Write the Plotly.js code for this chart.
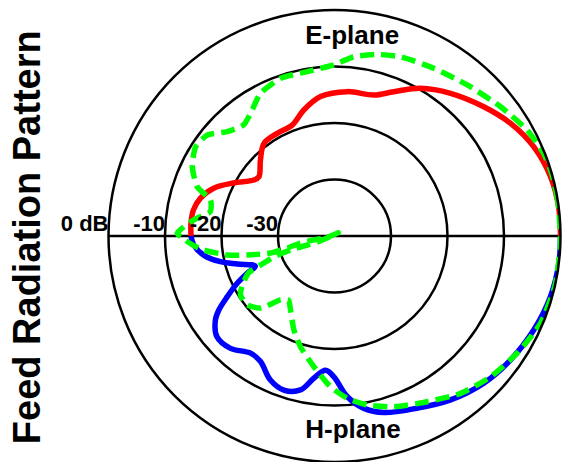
<!DOCTYPE html>
<html>
<head>
<meta charset="utf-8">
<script src="https://cdn.plot.ly/plotly-3.0.1.min.js"></script>
<style>
  html, body { margin: 0; padding: 0; background: #ffffff; }
  #chart { width: 563px; height: 462px; }
</style>
</head>
<body>
<div id="chart"></div>
<script>
// E-plane (red), angle in degrees, level in dB
const eTheta = [0, 7.4, 15.4, 24.1, 32.6, 40.9, 50.9, 59.8, 67.7, 74.4, 85, 95.7, 103.7, 110.9, 119.2, 127.3, 134.2, 141.9, 145.3, 152.3, 158.4, 164.2, 169.6, 174.8, 180];
const eLevel = [0, 0, -0.35, -1.35, -3.0, -5.05, -7.45, -9.75, -12.4, -14.1, -14.35, -15.2, -17.05, -19.0, -19.2, -19.4, -21.2, -23.0, -22.6, -19.8, -17.0, -15.35, -14.6, -14.5, -14.6];

// H-plane (blue)
const hTheta = [180, 183.7, 188.3, 192.7, 196.1, 200.8, 203.1, 205.9, 209.5, 212.6, 215.2, 220.6, 227.2, 234.4, 239.5, 246.0, 251.8, 257.5, 261.7, 266.2, 269.7, 274.5, 279.7, 285.6, 295.6, 305.3, 315.4, 324.8, 334.8, 344.3, 353.1, 360];
const hLevel = [-14.6, -15.05, -16.6, -19.3, -22.1, -25.0, -23.2, -20.85, -18.2, -15.7, -14.2, -12.6, -12.9, -14.5, -14.2, -12.1, -11.3, -12.1, -14.55, -16.2, -15.1, -11.5, -9.05, -7.55, -6.2, -4.45, -2.9, -1.9, -1.0, -0.3, 0, 0];

// Dashed green pattern
const gTheta = [0, 9.1, 16.0, 21.6, 28.8, 37.9, 48.7, 59.4, 69.8, 76.8, 83.9, 90.2, 99.4, 108.9, 117.4, 124.4, 129.3, 135.8, 141.6, 147.3, 154.0, 160.3, 163.8, 168.9, 173.5, 179.0,
  180.75, 183.6, 186.1, 190.1, 192.3, 194.9, 194.3, 191.6, 190.8, 188, 40, 199.4, 198.4, 197.6, 199.0, 201.4, 203.3, 208.0, 212.1, 218.4, 224.2, 229.8, 234.3, 239.3, 246.6, 252.9, 261.0, 268.5, 274.5, 280.95, 289.2, 299.2, 308.7, 317.95, 327.3, 337.0, 347.1, 356.5, 360];
const gLevel = [0, 0, 0, -0.2, -1.1, -2.75, -4.4, -5.5, -6.2, -7.0, -8.1, -9.7, -10.5, -10.5, -11.55, -13.7, -14.6, -13.5, -11.25, -10.8, -12.0, -14.2, -17.15, -17.6, -14.9, -12.15,
  -13.1, -14.8, -16.7, -20.8, -24.25, -28.3, -31.4, -33.85, -36.2, -38.75, -39.1, -36.8, -34.95, -31.8, -28.6, -25.9, -23.4, -21.55, -20.35, -20.35, -21.7, -25.2, -26.05, -24.75, -21.9, -19.5, -16.6, -13.3, -11.2, -9.55, -8.0, -6.4, -4.3, -2.8, -1.6, -0.4, 0, 0, 0];

// Ring labels
const ringLevels = [-30, -20, -10, 0];
const ringLabels = ['-30', '-20', '-10', '0 dB'];

// Plane labels
const planeNames = ['E-plane', 'H-plane'];
const planeTheta = [84.9, 275.4];
const planeLevel = [-4.8, -5.3];

const FONT = 'Arial, "Liberation Sans", sans-serif';

const traces = [
  {
    type: 'scatterpolar', mode: 'lines', r: eLevel, theta: eTheta,
    line: { color: '#ff0000', width: 5.5, shape: 'spline', smoothing: 1 },
    hoverinfo: 'skip', showlegend: false
  },
  {
    type: 'scatterpolar', mode: 'lines', r: hLevel, theta: hTheta,
    line: { color: '#0000ff', width: 5.5, shape: 'spline', smoothing: 1 },
    hoverinfo: 'skip', showlegend: false
  },
  {
    type: 'scatterpolar', mode: 'lines', r: gLevel, theta: gTheta,
    line: { color: '#00ff00', width: 5.5, dash: '14px,7px', shape: 'spline', smoothing: 0.6 },
    hoverinfo: 'skip', showlegend: false
  },
  {
    type: 'scatterpolar', mode: 'text', r: ringLevels, theta: ringLevels.map(() => 180),
    text: ringLabels.map(t => '<b>' + t + '</b>'),
    textposition: 'top left', cliponaxis: false,
    textfont: { family: FONT, size: 22, color: '#000000' },
    hoverinfo: 'skip', showlegend: false
  },
  {
    type: 'scatterpolar', mode: 'text', r: planeLevel, theta: planeTheta,
    text: planeNames.map(t => '<b>' + t + '</b>'),
    textposition: 'middle center', cliponaxis: false,
    textfont: { family: FONT, size: 26, color: '#000000' },
    hoverinfo: 'skip', showlegend: false
  }
];

const layout = {
  width: 563, height: 462,
  margin: { l: 108, r: 2, t: 10, b: 0 },
  paper_bgcolor: '#ffffff',
  showlegend: false,
  font: { family: FONT, color: '#000000' },
  polar: {
    domain: { x: [0, 1], y: [0, 1] },
    bgcolor: '#ffffff',
    radialaxis: {
      range: [-40, 0], tickvals: [-30, -20, -10],
      showticklabels: false, ticks: '', showline: false,
      showgrid: true, gridcolor: '#000000', gridwidth: 2.5
    },
    angularaxis: {
      tickvals: [0, 180], showticklabels: false, ticks: '',
      showgrid: true, gridcolor: '#000000', gridwidth: 2.5,
      showline: true, linecolor: '#000000', linewidth: 2.5,
      rotation: 0, direction: 'counterclockwise'
    }
  },
  annotations: [
    {
      text: '<b>Feed Radiation Pattern</b>', textangle: -90,
      xref: 'paper', yref: 'paper', x: -0.177, y: 0.497,
      xanchor: 'center', yanchor: 'middle', showarrow: false,
      font: { family: FONT, size: 38, color: '#000000' }
    }
  ]
};

Plotly.newPlot('chart', traces, layout, { displayModeBar: false, staticPlot: true });
</script>
</body>
</html>
